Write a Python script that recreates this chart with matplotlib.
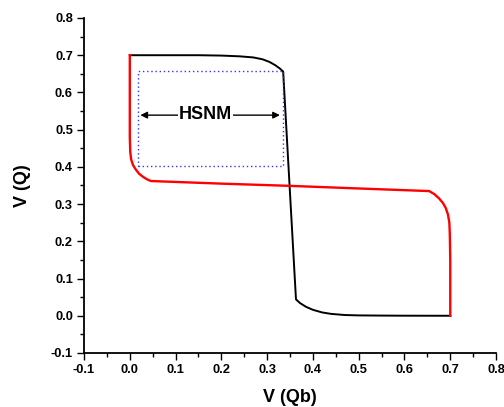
import matplotlib
matplotlib.use("Agg")
import matplotlib.pyplot as plt
from matplotlib.ticker import MultipleLocator

# Black VTC
black_x = [0.0, 0.05, 0.10, 0.15, 0.20, 0.24, 0.27, 0.29, 0.305, 0.318, 0.328, 0.335,
           0.363, 0.372, 0.385, 0.40, 0.42, 0.44, 0.47, 0.50, 0.55, 0.60, 0.65, 0.70]
black_y = [0.700, 0.700, 0.700, 0.700, 0.699, 0.697, 0.694, 0.689, 0.682, 0.673, 0.664, 0.656,
           0.044, 0.034, 0.024, 0.016, 0.009, 0.005, 0.002, 0.001, 0.0005, 0.0002, 0.0001, 0.0]

# Red VTC
red_x = [0.0, 0.0, 0.001, 0.003, 0.007, 0.013, 0.020, 0.028, 0.037, 0.046,
         0.20, 0.35, 0.50, 0.654, 0.665, 0.675, 0.684, 0.690, 0.695, 0.698, 0.699, 0.700, 0.700]
red_y = [0.700, 0.480, 0.440, 0.420, 0.405, 0.393, 0.382, 0.374, 0.367, 0.362,
         0.355, 0.349, 0.342, 0.335, 0.327, 0.316, 0.303, 0.290, 0.272, 0.250, 0.220, 0.150, 0.0]

# HSNM square
sq_x = [0.017, 0.334]
sq_y = [0.403, 0.658]
arrow_y = 0.539
label_x = 0.166
label = "HSNM"

plt.rcParams['font.family'] = ['Liberation Sans', 'DejaVu Sans']
plt.rcParams['font.weight'] = 'bold'

fig = plt.figure(figsize=(5.04, 4.07), dpi=100)
ax = fig.add_axes([0.1667, 0.1327, 0.8175, 0.8231])

ax.plot(black_x, black_y, color='black', lw=1.4)
ax.plot(red_x, red_y, color='#ff0000', lw=1.7)

ax.plot([sq_x[0], sq_x[1], sq_x[1], sq_x[0], sq_x[0]],
        [sq_y[0], sq_y[0], sq_y[1], sq_y[1], sq_y[0]],
        color='#3333ff', lw=1.0, ls=(0, (1, 2)))

ax.annotate('', xy=(sq_x[0], arrow_y), xytext=(label_x, arrow_y),
            arrowprops=dict(arrowstyle='-|>', color='black', lw=1.0, mutation_scale=10))
ax.annotate('', xy=(sq_x[1], arrow_y), xytext=(label_x, arrow_y),
            arrowprops=dict(arrowstyle='-|>', color='black', lw=1.0, mutation_scale=10))
ax.text(label_x, arrow_y + 0.003, label, ha='center', va='center', fontsize=13, fontweight='bold',
        bbox=dict(facecolor='white', edgecolor='none', pad=0.5))

ax.set_xlim(-0.1, 0.8)
ax.set_ylim(-0.1, 0.8)
ax.xaxis.set_major_locator(MultipleLocator(0.1))
ax.yaxis.set_major_locator(MultipleLocator(0.1))
ax.xaxis.set_minor_locator(MultipleLocator(0.05))
ax.yaxis.set_minor_locator(MultipleLocator(0.05))
ax.xaxis.set_major_formatter(plt.FuncFormatter(lambda v, p: f"{v:.1f}"))
ax.yaxis.set_major_formatter(plt.FuncFormatter(lambda v, p: f"{v:.1f}"))

for s in ['top', 'right']:
    ax.spines[s].set_visible(False)
for s in ['left', 'bottom']:
    ax.spines[s].set_linewidth(1.3)

ax.tick_params(which='major', direction='out', length=5, width=1.0, labelsize=9.3, pad=3)
ax.tick_params(which='minor', direction='out', length=3, width=1.0)
for lab in ax.get_xticklabels() + ax.get_yticklabels():
    lab.set_fontweight('bold')

ax.set_xlabel('V (Qb)', fontsize=13, fontweight='bold')
ax.set_ylabel('V (Q)', fontsize=13, fontweight='bold')
ax.xaxis.set_label_coords(0.5, -0.108)
ax.yaxis.set_label_coords(-0.129, 0.5)

fig.savefig('out.png', dpi=100)
